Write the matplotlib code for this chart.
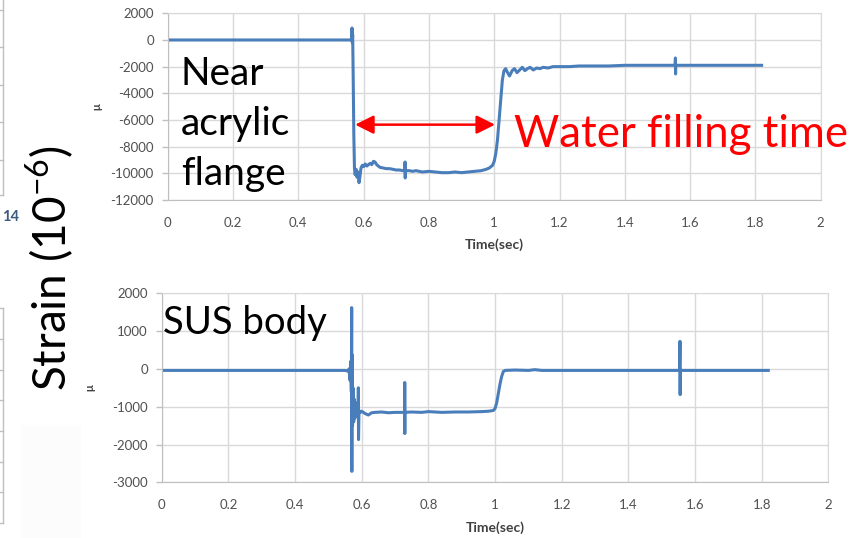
import matplotlib.pyplot as plt
from matplotlib.lines import Line2D
from matplotlib.patches import Rectangle

# strain gauge near the acrylic flange
time_flange = [0.000, 0.560, 0.5635, 0.5645, 0.5655, 0.5665, 0.568, 0.570, 0.572, 0.574,
               0.577, 0.580, 0.583, 0.586, 0.589, 0.592, 0.596, 0.600, 0.605, 0.610,
               0.615, 0.620, 0.625, 0.630, 0.635, 0.640, 0.650, 0.660, 0.670, 0.680,
               0.690, 0.700, 0.710, 0.720, 0.726, 0.727, 0.7275, 0.728, 0.740, 0.750,
               0.760, 0.780, 0.800, 0.820, 0.840, 0.860, 0.880, 0.900, 0.920, 0.940,
               0.960, 0.975, 0.985, 0.995, 1.000, 1.005, 1.010, 1.015, 1.020, 1.025,
               1.030, 1.035, 1.040, 1.047, 1.055, 1.062, 1.070, 1.078, 1.086, 1.094,
               1.102, 1.110, 1.120, 1.130, 1.140, 1.150, 1.165, 1.180, 1.200, 1.230,
               1.260, 1.300, 1.350, 1.400, 1.450, 1.500, 1.554, 1.555, 1.5555, 1.556,
               1.600, 1.650, 1.700, 1.750, 1.800, 1.819]
strain_flange = [0, 0, 30, 900, -200, 400, -2500, -7000, -9600, -10100,
                 -9700, -10300, -9900, -10700, -10200, -9600, -9400, -9500, -9300, -9450,
                 -9350, -9250, -9350, -9100, -9150, -9350, -9550, -9600, -9650, -9650,
                 -9700, -9750, -9750, -9800, -9750, -9150, -10350, -9800, -9800, -9850,
                 -9800, -9900, -9850, -9900, -9950, -9950, -9900, -9950, -9900, -9850,
                 -9800, -9700, -9600, -9400, -9100, -8500, -7500, -6000, -4500, -3000,
                 -2300, -2150, -2400, -2700, -2300, -2150, -2450, -2250, -2050, -2300,
                 -2150, -2050, -2250, -2100, -2150, -2050, -2100, -2000, -2000, -2000,
                 -1950, -1950, -1950, -1900, -1900, -1900, -1900, -1350, -2550, -1900,
                 -1900, -1900, -1900, -1900, -1900, -1900]

# strain gauge on the SUS body
time_body = [0.000, 0.552, 0.558, 0.562, 0.565, 0.567, 0.569, 0.570, 0.5705, 0.571,
             0.5725, 0.574, 0.576, 0.578, 0.580, 0.583, 0.586, 0.5895, 0.590, 0.5905,
             0.592, 0.596, 0.600, 0.610, 0.620, 0.630, 0.640, 0.660, 0.680, 0.700,
             0.720, 0.729, 0.7292, 0.7294, 0.7296, 0.750, 0.780, 0.800, 0.840, 0.880,
             0.920, 0.960, 0.980, 0.995, 1.000, 1.005, 1.010, 1.015, 1.020, 1.025,
             1.030, 1.060, 1.100, 1.120, 1.140, 1.200, 1.300, 1.400, 1.500, 1.554,
             1.555, 1.5555, 1.556, 1.600, 1.700, 1.800, 1.820]
strain_body = [-40, -40, -60, 0, -300, 200, -600, 1620, -2710, 380,
               -1500, -500, -1400, -800, -1300, -900, -1150, -1100, -500, -1870,
               -1100, -1150, -1120, -1180, -1220, -1160, -1150, -1140, -1160, -1150,
               -1150, -1150, -360, -1710, -1150, -1140, -1150, -1130, -1150, -1140,
               -1140, -1130, -1120, -1100, -1050, -900, -650, -400, -200, -70,
               -40, -30, -40, -20, -40, -40, -40, -40, -40, -40,
               730, -680, -40, -40, -40, -40, -40]

x_ticks = [0, 0.2, 0.4, 0.6, 0.8, 1.0, 1.2, 1.4, 1.6, 1.8, 2.0]
x_labels = ['0', '0.2', '0.4', '0.6', '0.8', '1', '1.2', '1.4', '1.6', '1.8', '2']
y_ticks_flange = [-12000, -10000, -8000, -6000, -4000, -2000, 0, 2000]
y_ticks_body = [-3000, -2000, -1000, 0, 1000, 2000]

# filling period marked by the red arrow
fill_start, fill_end, fill_level = 0.574, 1.0025, -6350

W, H = 851, 538
BLUE = '#4a7ebb'
GRID = '#d9d9d9'
AXIS = '#bfbfbf'
TICK = '#505050'


def box(left, top, right, bottom):
    """Pixel box -> figure fraction rect"""
    return [left / W, 1 - bottom / H, (right - left) / W, (bottom - top) / H]


def pt(x, y):
    """Pixel point -> figure fraction"""
    return x / W, 1 - y / H


def style(ax, yticks):
    """Excel-like look"""
    ax.set_xlim(0, 2)
    ax.set_ylim(yticks[0], yticks[-1])
    ax.set_xticks(x_ticks, x_labels)
    ax.set_yticks(yticks, [str(v) for v in yticks])
    ax.grid(True, color=GRID, lw=1)
    ax.set_axisbelow(True)
    for side in ['top', 'right']:
        ax.spines[side].set_color(GRID)
    for side in ['left', 'bottom']:
        ax.spines[side].set_color(AXIS)
    ax.tick_params(axis='x', length=0, pad=12, labelsize=9.5, labelcolor=TICK)
    ax.tick_params(axis='y', length=4, width=1, color=AXIS, pad=6,
                   labelsize=9.5, labelcolor=TICK)
    ax.set_xlabel('Time(sec)', fontsize=10, fontweight='bold', color='#404040')
    ax.set_ylabel('\u03bc', fontsize=8, fontweight='bold', color='#404040')
    ax.xaxis.set_label_coords(0.5, -0.205)
    ax.yaxis.set_label_coords(-0.10, 0.5)


def main():
    """Main function"""
    plt.rcParams['font.family'] = ['Lato', 'DejaVu Sans']
    fig = plt.figure(figsize=(W / 100, H / 100), dpi=100)

    ax1 = fig.add_axes(box(167.7, 13.3, 820.7, 200))
    ax1.plot(time_flange, strain_flange, color=BLUE, lw=2.2)
    style(ax1, y_ticks_flange)
    ax1.annotate('', xy=(fill_start, fill_level), xytext=(fill_end, fill_level),
                 arrowprops=dict(arrowstyle='<|-|>,head_length=0.8,head_width=0.4',
                                 color='red', lw=1.8, mutation_scale=14,
                                 shrinkA=0, shrinkB=0))

    ax2 = fig.add_axes(box(161.7, 293.3, 828.3, 482.3))
    ax2.plot(time_body, strain_body, color=BLUE, lw=2.2)
    style(ax2, y_ticks_body)

    # big labels
    for word, base in [('Near', 85), ('acrylic', 135), ('flange', 185)]:
        fig.text(*pt(181, base), word, fontsize=28, va='baseline', color='black')
    fig.text(*pt(163, 334), 'SUS body', fontsize=27.5, va='baseline', color='black')
    fig.text(*pt(514, 147), 'Water filling time', fontsize=31.5, va='baseline',
             color='red')
    fig.text(*pt(50, 268), 'Strain (10$^{\\mathregular{-6}}$)', fontsize=33,
             rotation=90, ha='center', va='center', color='black')

    # edges of the neighbouring charts on the left
    fig.add_artist(Line2D([3 / W, 3 / W], [1, 1 - 195 / H], color=AXIS, lw=1))
    for y in [10, 47, 85, 122, 160, 195]:
        fig.add_artist(Line2D([0, 3 / W], [1 - y / H] * 2, color=AXIS, lw=1))
    fig.add_artist(Line2D([3 / W, 3 / W], [1 - 308 / H, 1 - 523 / H],
                          color=AXIS, lw=1))
    for y in [308, 339, 370, 400, 431, 462, 492, 523]:
        fig.add_artist(Line2D([0, 3 / W], [1 - y / H] * 2, color=AXIS, lw=1))
    fig.text(*pt(2, 217), '14', fontsize=10.5, fontweight='bold', va='center',
             color='#3d5a80')
    fig.add_artist(Rectangle(pt(22, 538), 58 / W, 113 / H, color='#fcfcfc',
                             zorder=-1))

    fig.savefig('out.png', dpi=100)


if __name__ == "__main__":
    main()
